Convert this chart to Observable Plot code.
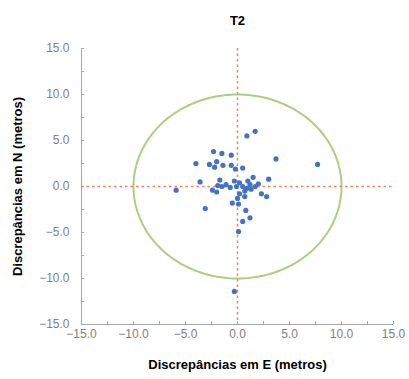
<!DOCTYPE html>
<html>
<head>
<meta charset="utf-8">
<script src="https://cdn.jsdelivr.net/npm/d3@7"></script>
<script src="https://cdn.jsdelivr.net/npm/@observablehq/plot@0.6"></script>
<style>
  body { margin: 0; background: #fff; }
  #chart svg { display: block; }
</style>
</head>
<body>
<div id="chart"></div>
<script>
const title = "T2";
const xTitle = "Discrepâncias em E (metros)";
const yTitle = "Discrepâncias em N (metros)";
const tickLabels = [-15, -10, -5, 0, 5, 10, 15];
const minorTicks = [-15, -12.5, -10, -7.5, -5, -2.5, 0, 2.5, 5, 7.5, 10, 12.5, 15];
const toleranceRadius = 10;

const discE = [0.9, 1.7, -2.3, -1.5, -0.6, 3.7, 7.7, -4.0, -2.7, -2.0, -2.2, -1.4, -0.6, -0.2, 0.5,
  -3.6, -5.9, -1.7, -1.9, -2.4, -2.0, -1.5, -1.1, -0.7, -0.3, -0.1, 0.2, 0.5, 0.7, 1.0, 1.2, 1.5,
  1.7, 2.0, 3.0, 2.3, 2.8, 0.2, 0.7, 0.0, -0.5, 0.1, -3.1, 0.8, 1.2, 0.5, 0.1, -0.3, 0.9, 1.3];
const discN = [5.5, 6.0, 3.8, 3.6, 3.4, 3.0, 2.4, 2.5, 2.4, 2.7, 2.1, 2.3, 2.3, 1.9, 2.0,
  0.5, -0.4, 0.7, 0.1, -0.4, -0.6, 0.0, 0.2, -0.1, 0.6, 0.0, 0.4, 0.0, -0.5, 0.6, 0.2, 1.0,
  0.0, 0.3, 0.8, -0.8, -1.1, -0.8, -1.1, -1.3, -1.8, -1.9, -2.4, -2.6, -3.4, -3.8, -4.9, -11.4, -0.2, -0.3];

const points = discE.map((e, i) => ({e, n: discN[i]}));
const circle = d3.range(0, 361, 2).map(a => ({
  e: toleranceRadius * Math.cos(a * Math.PI / 180),
  n: toleranceRadius * Math.sin(a * Math.PI / 180)
}));

const axisColor = "#a6a6a6";
const labelColor = "#7f7f7f";
const dashColor = "#f4805e";

const chart = Plot.plot({
  width: 409,
  height: 379,
  marginLeft: 81,
  marginRight: 16,
  marginTop: 48,
  marginBottom: 55,
  style: {fontFamily: "'Liberation Sans', Arial, sans-serif", fontSize: "12px", background: "#fff"},
  x: {domain: [-15, 15], nice: false},
  y: {domain: [-15, 15], nice: false},
  marks: [
    Plot.ruleX([-15], {stroke: axisColor, strokeWidth: 1}),
    Plot.ruleY([-15], {stroke: axisColor, strokeWidth: 1}),
    Plot.axisX({ticks: minorTicks, tickSize: -3, tickFormat: () => "", stroke: axisColor, label: null}),
    Plot.axisY({ticks: minorTicks, tickSize: -3, tickFormat: () => "", stroke: axisColor, label: null}),
    Plot.axisX({ticks: tickLabels, tickSize: 0, tickPadding: 5, tickFormat: d3.format(".1f"), fill: labelColor, label: null}),
    Plot.axisY({ticks: tickLabels, tickSize: 0, tickPadding: 12, tickFormat: d3.format(".1f"), fill: labelColor, label: null}),
    Plot.line(circle, {x: "e", y: "n", stroke: "#a9d07e", strokeWidth: 2}),
    Plot.ruleX([0], {stroke: dashColor, strokeWidth: 1.5, strokeDasharray: "2.5,3"}),
    Plot.ruleY([0], {stroke: dashColor, strokeWidth: 1.5, strokeDasharray: "2.5,3"}),
    Plot.dot(points, {x: "e", y: "n", r: 2.6, fill: "#4472c4", stroke: "none"}),
    Plot.text([title], {frameAnchor: "top", dy: -33, fontWeight: "bold", fontSize: 13, fill: "#000"}),
    Plot.text([xTitle], {frameAnchor: "bottom", dy: 44, fontWeight: "bold", fontSize: 13, fill: "#000"}),
    Plot.text([yTitle], {frameAnchor: "left", dx: -64, rotate: -90, textAnchor: "middle", fontWeight: "bold", fontSize: 13, fill: "#000"})
  ]
});
document.getElementById("chart").appendChild(chart);
</script>
</body>
</html>
